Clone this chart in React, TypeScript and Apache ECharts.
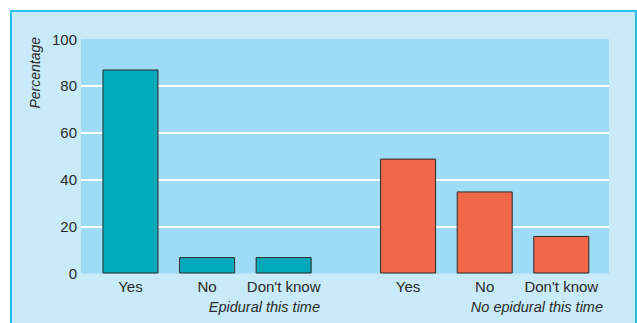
import React, { useEffect, useRef } from "react";
import * as echarts from "echarts";

const categories = ["Yes", "No", "Don't know"];
const groupNames = ["Epidural this time", "No epidural this time"];
const epiduralValues = [87, 7, 7];
const noEpiduralValues = [49, 35, 16];
const yTicks = [0, 20, 40, 60, 80, 100];

const GROUP_GAP = 0.625; // extra category slots between the two groups
const pos = (g: number, i: number) => 1 + i + g * (categories.length + GROUP_GAP);

const FONT = "'Liberation Sans', Arial, sans-serif";
const TEXT = "#2a2a2a";

export default function App() {
  const ref = useRef<HTMLDivElement>(null);
  useEffect(() => {
    if (!ref.current) return;
    const chart = echarts.init(ref.current, undefined, { renderer: "svg" });
    const positions: number[] = [];
    const labels: string[] = [];
    [0, 1].forEach((g) =>
      categories.forEach((c, i) => {
        positions.push(pos(g, i));
        labels.push(c);
      })
    );
    const mk = (vals: number[], g: number) => vals.map((v, i) => [pos(g, i), v]);
    chart.setOption({
      animation: false,
      backgroundColor: "transparent",
      grid: {
        left: 81,
        top: 39,
        right: 28,
        bottom: 49.5,
        show: true,
        backgroundColor: "#9edcf6",
        borderWidth: 0,
      },
      xAxis: {
        type: "value",
        min: 0.354,
        max: 7.248,
        splitLine: { show: false },
        axisLine: { show: false },
        axisTick: { show: false },
        axisLabel: {
          customValues: positions,
          fontFamily: FONT,
          fontSize: 15,
          color: TEXT,
          margin: 5,
          formatter: (v: number) => {
            const k = positions.findIndex((p) => Math.abs(p - v) < 1e-6);
            return k >= 0 ? labels[k] : "";
          },
        },
      },
      yAxis: {
        type: "value",
        min: yTicks[0],
        max: yTicks[yTicks.length - 1],
        interval: 20,
        axisLine: { show: false },
        axisTick: { show: false },
        axisLabel: { fontFamily: FONT, fontSize: 15, color: TEXT, margin: 4 },
        splitLine: {
          show: true,
          showMinLine: false,
          showMaxLine: false,
          lineStyle: { color: "#ffffff", width: 2 },
        },
      },
      series: [
        {
          type: "bar",
          data: mk(epiduralValues, 0),
          barWidth: 56,
          itemStyle: { color: "#02a9bb", borderColor: "#2a2a2a", borderWidth: 1 },
        },
        {
          type: "bar",
          data: mk(noEpiduralValues, 1),
          barWidth: 56,
          barGap: "-100%",
          itemStyle: { color: "#f0674a", borderColor: "#2a2a2a", borderWidth: 1 },
        },
      ],
      graphic: [
        {
          type: "text",
          x: 35,
          y: 37,
          rotation: Math.PI / 2,
          style: {
            text: "Percentage",
            fontFamily: FONT,
            fontStyle: "italic",
            fontSize: 14,
            fill: TEXT,
            textAlign: "right",
            textVerticalAlign: "middle",
          },
        },
        {
          type: "text",
          x: 320,
          y: 307,
          style: {
            text: groupNames[0],
            fontFamily: FONT,
            fontStyle: "italic",
            fontSize: 14.5,
            fill: TEXT,
            textAlign: "right",
            textVerticalAlign: "middle",
          },
        },
        {
          type: "text",
          x: 603,
          y: 307,
          style: {
            text: groupNames[1],
            fontFamily: FONT,
            fontStyle: "italic",
            fontSize: 14.5,
            fill: TEXT,
            textAlign: "right",
            textVerticalAlign: "middle",
          },
        },
      ],
    });
    return () => chart.dispose();
  }, []);
  return (
    <div
      style={{
        position: "fixed",
        left: 0,
        top: 0,
        width: 637,
        height: 323,
        background: "#ffffff",
        overflow: "hidden",
      }}
    >
      <div
        style={{
          position: "absolute",
          left: 10,
          top: 10,
          width: 627,
          height: 340,
          background: "#c8eaf9",
          border: "2px solid #2cbdee",
          boxSizing: "border-box",
        }}
      />
      <div ref={ref} style={{ position: "absolute", left: 0, top: 0, width: 637, height: 323 }} />
    </div>
  );
}
